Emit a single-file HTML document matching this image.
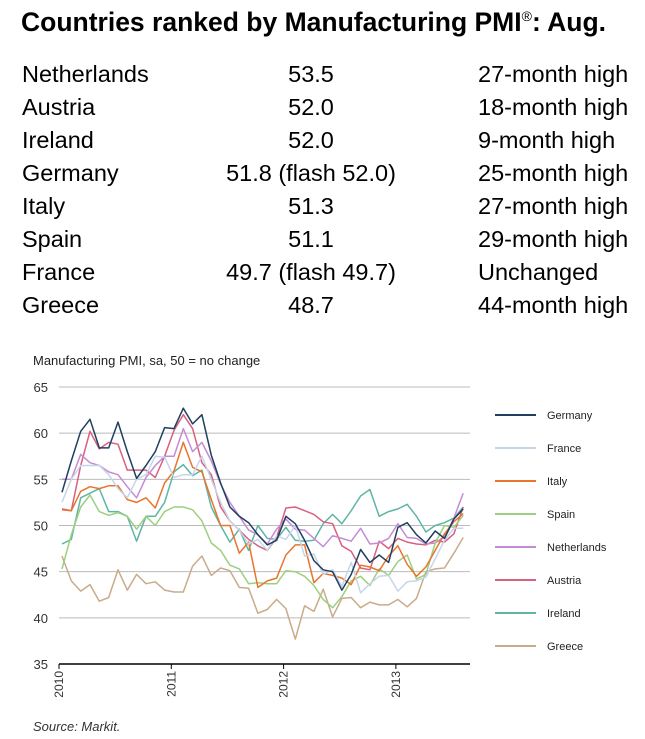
<!DOCTYPE html>
<html><head><meta charset="utf-8"><style>
body{margin:0;background:#fff;font-family:"Liberation Sans",sans-serif;}
#wrap{position:relative;width:645px;height:739px;overflow:hidden}
.t{position:absolute;white-space:nowrap;color:#000}
</style></head><body><div id="wrap">
<div class="t" style="left:21px;top:7px;font-size:26.5px;font-weight:bold">Countries ranked by Manufacturing PMI<sup style="font-size:14px;font-weight:normal">®</sup>: Aug.</div>
<div id="tbl"></div>
<svg id="chart" width="645" height="739" style="position:absolute;left:0;top:0"></svg>
</div>
<script>
const rowCountries=["Netherlands","Austria","Ireland","Germany","Italy","Spain","France","Greece"];
const rowValues=["53.5","52.0","52.0","51.8 (flash 52.0)","51.3","51.1","49.7 (flash 49.7)","48.7"];
const rowNotes=["27-month high","18-month high","9-month high","25-month high","27-month high","29-month high","Unchanged","44-month high"];
const yTicks=[35,40,45,50,55,60,65];
const yearLabels=["2010","2011","2012","2013"];
const seriesNames=["Germany","France","Italy","Spain","Netherlands","Austria","Ireland","Greece"];
const seriesColors=["#1f3f5f","#c5d6ea","#e8742e","#9ccf7f","#c58bd6","#d9607f","#5fb5a6","#c9ab8a"];
const germany=[53.6,57,60.2,61.5,58.4,58.4,61.2,58,55.1,56.5,58,60.6,60.5,62.7,61,62,57.6,54.6,52,51,50.3,49,47.9,48.4,51.0,50.2,48.4,46.2,45.2,45.0,43.0,44.7,47.4,46.0,46.8,46.0,49.8,50.3,49.0,48.1,49.4,48.6,50.7,51.8];
const france=[52.5,55,56.5,56.5,56.5,55.5,54,53,55,55.5,57.5,57.4,55.2,55.5,55.5,57.5,55,52.5,50.5,49.5,48,48.5,47.3,48.9,48.5,50,46.7,46.9,44.7,45.2,43.4,46.0,42.7,43.7,44.5,44.6,42.9,43.9,44.0,44.4,46.4,48.4,49.7,49.7];
const italy=[51.7,51.6,53.7,54.2,54.0,54.3,54.3,52.8,52.5,53.0,51.9,54.6,55.9,59.0,56.3,55.8,52.8,50.0,50.0,47.0,48.2,43.3,44.0,44.3,46.8,47.9,47.9,43.8,44.8,44.6,44.3,43.6,45.7,45.5,45.1,46.7,47.8,45.8,44.5,45.5,47.3,49.1,50.4,51.3];
const spain=[45.3,49,52,53.3,51.5,51.1,51.4,51,49.6,51,50,51.5,52,52,51.7,50.5,48.1,47.3,45.7,45.3,43.7,43.8,43.7,43.7,45.1,45.0,44.5,43.5,42.0,41.1,42.3,44.0,44.5,43.5,45.3,44.6,46.1,46.8,44.2,44.7,48.1,50.0,49.8,51.1];
const netherlands=[55,55,57.7,56.8,56.5,55.8,55.5,54.2,53,55.2,56.5,57.5,57.5,60.5,58,59,57,54.5,52.5,51,49.5,49,48,49.6,50.7,49.6,49.5,48.6,47.7,48.9,48.6,48.3,49.7,48.0,48.1,48.6,50.2,48.7,48.6,48.0,48.1,48.8,50.8,53.5];
const austria=[51.8,51.6,56.5,60.2,58.3,59,58.8,56,56,56,55.2,57.5,60.3,62,60.5,56.8,55.5,52,50.5,49.5,48.5,47.8,47.3,48.7,51.9,52,51.6,51.2,50.4,50.2,47.8,47.2,45.4,45.2,48.3,47.5,48.6,48.2,48.0,47.9,48.4,48.2,49.1,52.0];
const ireland=[48,48.5,53,53.5,54,51.5,51.5,51,48.3,51,51,52.5,55.8,56.6,55.4,56.0,52.0,50.0,48.2,49.6,47.3,50.0,48.6,48.5,49.8,48.4,48.3,48.4,50.2,51.2,50.2,51.6,53.2,53.9,51,51.5,51.8,52.3,51.0,49.3,50.0,50.3,50.8,52.0];
const greece=[46.7,44,42.9,43.6,41.8,42.2,45.2,43,44.7,43.7,43.9,43,42.8,42.8,45.6,46.7,44.6,45.4,45.1,43.3,43.2,40.5,40.9,42.0,41.0,37.7,41.3,40.7,43.1,40.1,42.1,42.2,41.1,41.7,41.4,41.4,42.0,41.2,42.1,45.0,45.3,45.4,47.0,48.7];
const allSeries=[germany,france,italy,spain,netherlands,austria,ireland,greece];

const tbl=document.getElementById('tbl');
rowCountries.forEach((c,i)=>{
  const yy=61+i*33;
  const a=document.createElement('div');a.className='t';a.style.cssText=`left:22px;top:${yy}px;font-size:23.5px`;a.textContent=c;
  
  
  const b=document.createElement('div');b.className='t';b.style.cssText=`left:311px;top:${yy}px;font-size:23.5px;transform:translateX(-50%)`;b.textContent=rowValues[i];
  
  
  const d=document.createElement('div');d.className='t';d.style.cssText=`left:478px;top:${yy}px;font-size:23.5px`;d.textContent=rowNotes[i];
  
  
  tbl.append(a,b,d);
});

const svg=document.getElementById('chart');const NS='http://www.w3.org/2000/svg';
function mk(tag,attrs,txt){const e=document.createElementNS(NS,tag);for(const k in attrs)e.setAttribute(k,attrs[k]);if(txt!=null)e.textContent=txt;svg.appendChild(e);return e;}
const X0=59,X1=470,yTop=387,yBot=664;
const y=v=>yBot-(v-35)/30*(yBot-yTop);
const x=i=>62+i*9.33;
let e=mk('text',{x:33,y:365,'font-size':13,fill:'#222'},'Manufacturing PMI, sa, 50 = no change');


yTicks.forEach(t=>{
  if(t>35){const g=mk('line',{x1:X0,x2:X1,y1:y(t),y2:y(t),stroke:'#bbb','stroke-width':1});
  
  }
  const l=mk('text',{x:48,y:y(t)+5,'font-size':13,'text-anchor':'end',fill:'#333'},t);
  
  
});
e=mk('line',{x1:X0,x2:X1,y1:yBot,y2:yBot,stroke:'#000','stroke-width':1.5});


yearLabels.forEach((yr,k)=>{
  const tx=X0+k*112.3;
  const tk=mk('line',{x1:tx,x2:tx,y1:yBot,y2:yBot+5,stroke:'#000'});
  
  
  const lb=mk('text',{x:0,y:0,'font-size':12,fill:'#333','text-anchor':'end',transform:`translate(${tx+4},${yBot+7}) rotate(-90)`},yr);
  
  
});
for(let s=allSeries.length-1;s>=0;s--){
  const pts=allSeries[s].map((v,i)=>x(i).toFixed(1)+','+y(v).toFixed(1)).join(' ');
  const p=mk('polyline',{points:pts,fill:'none',stroke:seriesColors[s],'stroke-width':1.5,'stroke-linejoin':'round'});
  
  
}
seriesNames.forEach((n,i)=>{
  const ly=415+i*33;
  const l=mk('line',{x1:495,x2:536,y1:ly,y2:ly,stroke:seriesColors[i],'stroke-width':2});
  
  
  const t=mk('text',{x:547,y:ly+4,'font-size':11,fill:'#222'},n);
  
  
});
e=mk('text',{x:33,y:731,'font-size':13,'font-style':'italic',fill:'#333'},'Source: Markit.');


</script></body></html>
